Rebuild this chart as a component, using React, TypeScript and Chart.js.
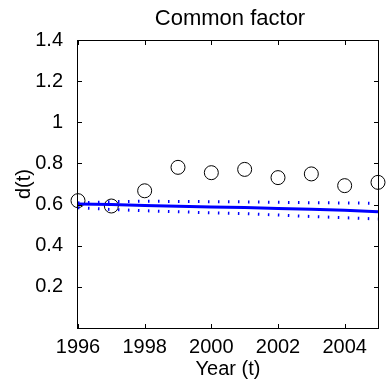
import React, { useEffect, useRef } from "react";
import { Chart, registerables } from "chart.js";

Chart.register(...registerables);

const years = [1996, 1997, 1998, 1999, 2000, 2001, 2002, 2003, 2004, 2005];
const observed = [0.619, 0.593, 0.667, 0.781, 0.755, 0.771, 0.731, 0.749, 0.692, 0.708];
const commonFactor = [0.603, 0.6, 0.595, 0.592, 0.588, 0.586, 0.581, 0.577, 0.572, 0.565];
const upperBand = [0.608, 0.614, 0.616, 0.615, 0.614, 0.613, 0.611, 0.609, 0.608, 0.606];
const lowerBand = [0.585, 0.576, 0.57, 0.565, 0.56, 0.556, 0.549, 0.542, 0.536, 0.53];
const xTickValues = [1996, 1998, 2000, 2002, 2004];
const yTickValues = [0, 0.2, 0.4, 0.6, 0.8, 1, 1.2, 1.4];
const chartTitle = "Common factor";

const FONT = "'Liberation Sans', Arial, Helvetica, sans-serif";

const boxPlugin = {
  id: "matlabBox",
  afterDraw(chart: any) {
    const { ctx, chartArea } = chart;
    const xs = chart.scales.x;
    const ys = chart.scales.y;
    const tl = 4;
    const L = Math.round(chartArea.left) - 1;
    const R = Math.round(chartArea.right);
    const T = Math.round(chartArea.top);
    const B = Math.round(chartArea.bottom);
    ctx.save();
    ctx.setLineDash([]);
    ctx.globalAlpha = 1;
    ctx.fillStyle = "#000000";
    // frame
    ctx.fillRect(L, T, R - L + 1, 1);
    ctx.fillRect(L, B, R - L + 1, 1);
    ctx.fillRect(L, T, 1, B - T + 1);
    ctx.fillRect(R, T, 1, B - T + 1);
    // inward ticks on all four sides
    for (const v of xTickValues) {
      const px = Math.round(xs.getPixelForValue(v));
      ctx.fillRect(px, B - tl, 1, tl);
      ctx.fillRect(px, T + 1, 1, tl);
    }
    for (const v of yTickValues) {
      const py = Math.round(ys.getPixelForValue(v));
      ctx.fillRect(L + 1, py, tl, 1);
      ctx.fillRect(R - tl, py, tl, 1);
    }
    // title centred over the plot area
    ctx.font = `22px ${FONT}`;
    ctx.textAlign = "center";
    ctx.textBaseline = "middle";
    ctx.fillText(chartTitle, (chartArea.left + chartArea.right) / 2 + 2, 19);
    ctx.restore();
  },
};

export default function App() {
  const canvasRef = useRef<HTMLCanvasElement | null>(null);

  useEffect(() => {
    const canvas = canvasRef.current;
    if (!canvas) return;
    const tickFont = { family: FONT, size: 20 };
    const chart = new Chart(canvas, {
      type: "scatter",
      data: {
        datasets: [
          {
            type: "line",
            label: "upper",
            data: years.map((y, i) => ({ x: y, y: upperBand[i] })),
            borderColor: "#0000ff",
            borderWidth: 3,
            borderDash: [1.5, 8.5],
            borderCapStyle: "butt",
            pointRadius: 0,
            fill: false,
            tension: 0,
            clip: false,
          } as any,
          {
            type: "line",
            label: "lower",
            data: years.map((y, i) => ({ x: y, y: lowerBand[i] })),
            borderColor: "#0000ff",
            borderWidth: 3,
            borderDash: [1.5, 8.5],
            borderCapStyle: "butt",
            pointRadius: 0,
            fill: false,
            tension: 0,
            clip: false,
          } as any,
          {
            type: "line",
            label: "common",
            data: years.map((y, i) => ({ x: y, y: commonFactor[i] })),
            borderColor: "#0000ff",
            borderWidth: 3,
            pointRadius: 0,
            fill: false,
            tension: 0,
            clip: false,
          } as any,
          {
            type: "scatter",
            label: "observed",
            data: years.map((y, i) => ({ x: y, y: observed[i] })),
            borderColor: "#000000",
            backgroundColor: "rgba(0,0,0,0)",
            borderWidth: 1,
            pointRadius: 7,
            showLine: false,
            clip: false,
          } as any,
        ],
      },
      options: {
        animation: false,
        responsive: false,
        maintainAspectRatio: false,
        layout: { padding: { right: 2, left: 0, top: 40, bottom: 0 } },
        plugins: {
          legend: { display: false },
          tooltip: { enabled: false },
          title: { display: false },
        },
        scales: {
          x: {
            type: "linear",
            position: "bottom",
            min: 1996,
            max: 2005,
            afterBuildTicks: (axis: any) => {
              axis.ticks = xTickValues.map((v) => ({ value: v }));
            },
            afterFit: (s: any) => {
              s.height = 55;
            },
            grid: { display: false },
            border: { display: false },
            ticks: {
              color: "#000",
              font: tickFont,
              padding: -1,
              maxRotation: 0,
              autoSkip: false,
              callback: (v: any) => String(v),
            },
            title: {
              display: true,
              text: "Year (t)",
              color: "#000",
              font: tickFont,
              padding: { top: 0, bottom: 2 },
            },
          },
          y: {
            type: "linear",
            min: 0,
            max: 1.4,
            afterBuildTicks: (axis: any) => {
              axis.ticks = yTickValues.map((v) => ({ value: v }));
            },
            afterFit: (s: any) => {
              s.width = 78;
            },
            grid: { display: false },
            border: { display: false },
            ticks: {
              color: "#000",
              font: tickFont,
              padding: 7,
              autoSkip: false,
              callback: (v: any) => (Number(v) === 0 ? "" : String(Number(Number(v).toFixed(1)))),
            },
            title: {
              display: true,
              text: "d(t)",
              color: "#000",
              font: tickFont,
              padding: { top: 12, bottom: 0 },
            },
          },
        },
      } as any,
      plugins: [boxPlugin],
    });
    return () => chart.destroy();
  }, []);

  return (
    <div style={{ position: "fixed", left: 0, top: 0, width: 386, height: 383, background: "#fff" }}>
      <canvas ref={canvasRef} width={386} height={383} style={{ display: "block", width: 386, height: 383 }} />
    </div>
  );
}
